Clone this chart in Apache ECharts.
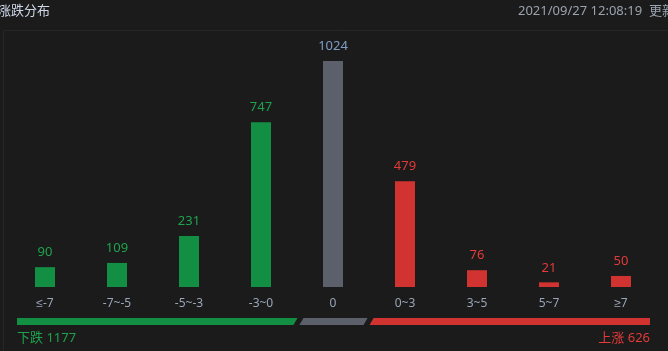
<!DOCTYPE html>
<html>
<head>
<meta charset="utf-8">
<script src="https://cdn.jsdelivr.net/npm/echarts@6/dist/echarts.min.js"></script>
<style>
  html, body { margin: 0; padding: 0; background: #1b1b1b; }
  #main { width: 668px; height: 351px; }
</style>
</head>
<body>
<div id="main"></div>
<script>
// 涨跌分布数据
var categories = ['≤-7', '-7~-5', '-5~-3', '-3~0', '0', '0~3', '3~5', '5~7', '≥7'];
var counts = [90, 109, 231, 747, 1024, 479, 76, 21, 50];
var kinds = ['down', 'down', 'down', 'down', 'flat', 'up', 'up', 'up', 'up'];
// 底部进度条的三段长度(从图上估计)
var splitWidths = [280, 68, 280];

var colors = { down: '#138f43', flat: '#5b606a', up: '#d13430' };
var labelColors = { down: '#1ea34c', flat: '#7f9cc6', up: '#e23b3a' };
var font = '"Noto Sans", "Noto Sans CJK SC", sans-serif';
var axisFont = '"Noto Sans", "Liberation Sans", "Noto Sans CJK SC", sans-serif';

var downTotal = 0, upTotal = 0;
counts.forEach(function (v, i) {
  if (kinds[i] === 'down') downTotal += v;
  if (kinds[i] === 'up') upTotal += v;
});

var segs = [];
var acc = 0;
splitWidths.forEach(function (w, i) {
  segs.push([acc, acc + w, i]);
  acc += w + 2;
});
var segTotal = acc - 2;

var myChart = echarts.init(document.getElementById('main'));
var option = {
  backgroundColor: '#1b1b1b',
  animation: false,
  graphic: [
    { type: 'rect', left: 1, top: 28, shape: { width: 666, height: 322 },
      style: { fill: 'none', stroke: '#262626', lineWidth: 1 } },
    { type: 'text', left: -2, top: 5,
      style: { text: '涨跌分布', fill: '#cdd8e8', font: '13px ' + font } },
    { type: 'text', left: 518, top: 5,
      style: { text: '2021/09/27 12:08:19  更新', fill: '#9aa3ae', font: '13px ' + font } },
    { type: 'text', left: 17, top: 332,
      style: { text: '下跌 ' + downTotal, fill: '#1ea34c', font: '13px ' + font } },
    { type: 'text', right: 18, top: 332,
      style: { text: '上涨 ' + upTotal, fill: '#e23b3a', font: '13px ' + font, align: 'right' } }
  ],
  grid: [
    { left: 9, right: 11, top: 61, bottom: 64 },
    { left: 17, right: 18, top: 318, height: 7 }
  ],
  xAxis: [
    {
      type: 'category', data: categories, gridIndex: 0,
      axisLine: { show: false }, axisTick: { show: false },
      axisLabel: { color: '#9aa6b8', fontSize: 12, margin: 11, fontFamily: axisFont }
    },
    { type: 'value', gridIndex: 1, min: 0, max: segTotal, show: false }
  ],
  yAxis: [
    { type: 'value', gridIndex: 0, min: 0, max: 'dataMax', show: false },
    { type: 'value', gridIndex: 1, min: 0, max: 1, show: false }
  ],
  series: [
    {
      type: 'bar',
      xAxisIndex: 0, yAxisIndex: 0,
      barWidth: 20,
      data: counts.map(function (v, i) {
        return {
          value: v,
          itemStyle: { color: colors[kinds[i]] },
          label: { color: labelColors[kinds[i]] }
        };
      }),
      label: { show: true, position: 'top', distance: 8, fontSize: 13, fontFamily: font }
    },
    {
      type: 'custom',
      xAxisIndex: 1, yAxisIndex: 1,
      data: segs,
      renderItem: function (params, api) {
        var idx = api.value(2);
        var a = api.coord([api.value(0), 1]);
        var b = api.coord([api.value(1), 0]);
        var k = 4;
        var x0 = a[0], x1 = b[0], yt = a[1], yb = b[1];
        var pts = [
          [idx > 0 ? x0 + k : x0, yt],
          [x1, yt],
          [idx < 2 ? x1 - k : x1, yb],
          [x0, yb]
        ];
        var c = [colors.down, colors.flat, colors.up][idx];
        return { type: 'polygon', shape: { points: pts }, style: { fill: c } };
      }
    }
  ]
};
myChart.setOption(option);
</script>
</body>
</html>
